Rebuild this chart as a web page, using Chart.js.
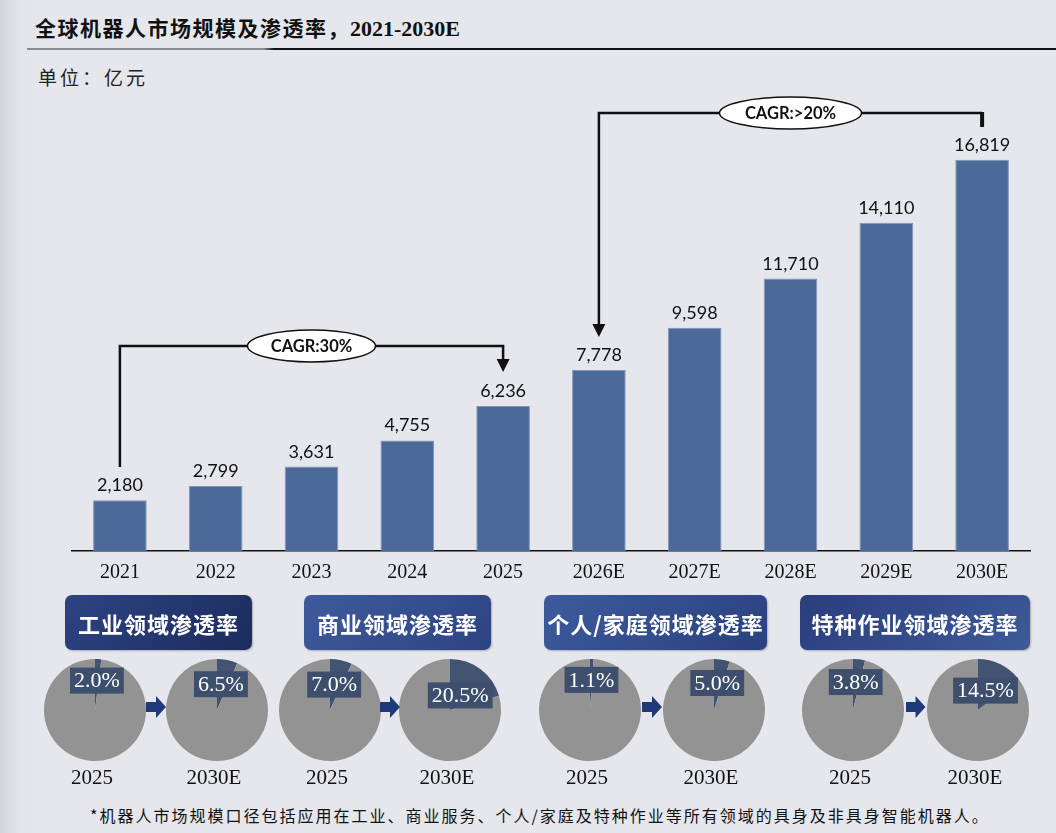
<!DOCTYPE html>
<html>
<head>
<meta charset="utf-8">
<script src="https://cdn.jsdelivr.net/npm/chart.js@4.4.1/dist/chart.umd.min.js"></script>
<style>
  html, body { margin: 0; padding: 0; }
  body {
    width: 1056px; height: 833px; overflow: hidden; position: relative;
    background: linear-gradient(to right, #d3d4da 0px, #e3e4ea 18px, #e6e7ec 40px);
  }
  .abs { position: absolute; }
  #title { left: 35px; top: 12px; font: 700 21px "Noto Sans CJK SC"; letter-spacing: 1.5px; color: #111; white-space: nowrap; }
  #title span { font: 700 22px "Liberation Serif"; letter-spacing: 0; }
  #rule { left: 27px; top: 48px; width: 1029px; height: 2px; background: linear-gradient(to right, #8c8c8c 0, #8c8c8c 23%, #111 24%, #111 100%); }
  #unit { left: 38px; top: 63px; font: 400 19px "Noto Sans CJK SC"; letter-spacing: 3px; color: #222; }
  .head { height: 55px; border-radius: 7px; color: #fff; font: 700 22px "Noto Sans CJK SC"; letter-spacing: 1px;
          display: flex; align-items: center; justify-content: center; box-shadow: 1px 1px 2px rgba(0,0,0,0.25); white-space: nowrap; }
  .arrow { width: 20px; height: 22px; background: #1f3a7a;
           clip-path: polygon(0 27%, 50% 27%, 50% 0, 100% 50%, 50% 100%, 50% 73%, 0 73%); }
  .yr { width: 90px; text-align: center; font: 400 21px "Liberation Serif"; color: #111; }
  #note { left: 90px; top: 803px; font: 400 16px "Noto Sans CJK SC"; letter-spacing: 2px; color: #111; white-space: nowrap; }
</style>
</head>
<body>
<div id="title" class="abs">全球机器人市场规模及渗透率，<span>2021-2030E</span></div>
<div id="rule" class="abs"></div>
<div id="unit" class="abs">单位：亿元</div>
<canvas id="barChart" class="abs" style="left:0;top:0" width="1056" height="600"></canvas>
<div id="lower"></div>
<div id="note" class="abs">*机器人市场规模口径包括应用在工业、商业服务、个人/家庭及特种作业等所有领域的具身及非具身智能机器人。</div>

<script>
// 市场规模（亿元）
const years = ['2021', '2022', '2023', '2024', '2025', '2026E', '2027E', '2028E', '2029E', '2030E'];
const marketSize = [2180, 2799, 3631, 4755, 6236, 7778, 9598, 11710, 14110, 16819];
const cagrLabels = ['CAGR:30%', 'CAGR:>20%'];

// 各领域渗透率（%）
const sectors = ['工业领域渗透率', '商业领域渗透率', '个人/家庭领域渗透率', '特种作业领域渗透率'];
const rate2025 = [2.0, 7.0, 1.1, 3.8];
const rate2030 = [6.5, 20.5, 5.0, 14.5];
const pieYears = ['2025', '2030E'];

// layout of the lower part (page pixels)
const headBoxes = [
  { left: 65, width: 187, bg: 'linear-gradient(135deg, #2d4484, #1c2b5c)' },
  { left: 304, width: 187, bg: 'linear-gradient(135deg, #3f5b9b, #2c4382)' },
  { left: 544, width: 223, bg: 'linear-gradient(135deg, #3d5b9b, #2a4080)' },
  { left: 800, width: 230, bg: 'linear-gradient(135deg, #2a3d7d, #3e5a99)' }
];
const pieCenters = [[95, 217], [330, 450], [590, 714], [853, 978]];
const pieY = 710;
const pieR = 51;

// ---------- bar chart ----------
const barLabels = {
  id: 'barLabels',
  afterDatasetsDraw(chart) {
    const ctx = chart.ctx;
    const meta = chart.getDatasetMeta(0);
    ctx.save();
    ctx.font = '18px Lato';
    ctx.fillStyle = '#111';
    ctx.textAlign = 'center';
    ctx.textBaseline = 'alphabetic';
    meta.data.forEach((bar, i) => {
      ctx.fillText(marketSize[i].toLocaleString('en-US'), bar.x, bar.y - 9);
    });
    ctx.restore();
  }
};

function cagrTag(ctx, text, cx, cy, rx, ry) {
  ctx.beginPath();
  ctx.ellipse(cx, cy, rx, ry, 0, 0, Math.PI * 2);
  ctx.fillStyle = '#fff';
  ctx.fill();
  ctx.lineWidth = 1.5;
  ctx.strokeStyle = '#111';
  ctx.stroke();
  ctx.fillStyle = '#111';
  ctx.font = 'bold 16.5px Lato';
  ctx.textAlign = 'center';
  ctx.textBaseline = 'middle';
  ctx.fillText(text, cx, cy + 1);
}

function arrowHead(ctx, x, tipY) {
  ctx.beginPath();
  ctx.moveTo(x - 6.5, tipY - 13);
  ctx.lineTo(x + 6.5, tipY - 13);
  ctx.lineTo(x, tipY);
  ctx.closePath();
  ctx.fillStyle = '#111';
  ctx.fill();
}

const cagrLines = {
  id: 'cagrLines',
  afterDraw(chart) {
    const ctx = chart.ctx;
    const bars = chart.getDatasetMeta(0).data;
    ctx.save();
    ctx.strokeStyle = '#111';
    ctx.lineWidth = 2.5;

    // 2021 -> 2025
    let x1 = bars[0].x, x2 = bars[4].x, yTop = 346;
    ctx.beginPath();
    ctx.moveTo(x1, 467);
    ctx.lineTo(x1, yTop);
    ctx.lineTo(x2, yTop);
    ctx.lineTo(x2, 360);
    ctx.stroke();
    arrowHead(ctx, x2, 372);
    cagrTag(ctx, cagrLabels[0], (x1 + x2) / 2, yTop, 64, 16);

    // 2030E -> 2026E
    x1 = bars[5].x; x2 = bars[9].x; yTop = 113;
    ctx.strokeStyle = '#111';
    ctx.lineWidth = 2.5;
    ctx.beginPath();
    ctx.moveTo(x1, 326);
    ctx.lineTo(x1, yTop);
    ctx.lineTo(x2, yTop);
    ctx.stroke();
    ctx.lineWidth = 4;
    ctx.beginPath();
    ctx.moveTo(x2, yTop - 1);
    ctx.lineTo(x2, 127);
    ctx.stroke();
    arrowHead(ctx, x1, 337);
    cagrTag(ctx, cagrLabels[1], (x1 + x2) / 2, yTop, 71, 16);
    ctx.restore();
  }
};

new Chart(document.getElementById('barChart'), {
  type: 'bar',
  data: {
    labels: years,
    datasets: [{
      data: marketSize,
      backgroundColor: '#4b6a99',
      borderColor: '#8195b8',
      borderWidth: 1,
      barPercentage: 0.56,
      categoryPercentage: 1
    }]
  },
  options: {
    responsive: false,
    animation: false,
    layout: { padding: { left: 72, right: 26, top: 109, bottom: 9 } },
    plugins: { legend: { display: false }, tooltip: { enabled: false } },
    scales: {
      x: {
        grid: { display: false },
        border: { display: true, color: '#111', width: 1.5 },
        ticks: { color: '#111', font: { family: 'Liberation Serif', size: 20 }, padding: 2, maxRotation: 0 },
        afterFit(scale) { scale.height = 40; }
      },
      y: { display: false, min: 0, max: 19000 }
    }
  },
  plugins: [barLabels, cagrLines]
});

// ---------- penetration pies ----------
const pieLabel = {
  id: 'pieLabel',
  afterDatasetsDraw(chart) {
    const ctx = chart.ctx;
    const arc = chart.getDatasetMeta(0).data[0];
    const pct = chart.data.datasets[0].data[0];
    const txt = pct.toFixed(1) + '%';
    const cx = arc.x + 1 + 0.45 * pct;
    const cy = arc.y - 31 + 0.8 * pct;
    ctx.save();
    ctx.font = '22px "Liberation Serif"';
    const w = ctx.measureText(txt).width + 8;
    ctx.fillStyle = '#3e4f6e';
    ctx.fillRect(cx - w / 2, cy - 13, w, 26);
    ctx.fillStyle = '#fff';
    ctx.textAlign = 'center';
    ctx.textBaseline = 'middle';
    ctx.fillText(txt, cx, cy + 1);
    ctx.restore();
  }
};

const lower = document.getElementById('lower');
const size = 120;
const pad = size / 2 - pieR;

sectors.forEach((name, s) => {
  const hb = headBoxes[s];
  const head = document.createElement('div');
  head.className = 'abs head';
  head.style.left = hb.left + 'px';
  head.style.top = '595px';
  head.style.width = hb.width + 'px';
  head.style.background = hb.bg;
  head.textContent = name;
  lower.appendChild(head);

  const rates = [rate2025[s], rate2030[s]];
  rates.forEach((r, k) => {
    const cx = pieCenters[s][k];
    const cv = document.createElement('canvas');
    cv.className = 'abs';
    cv.width = size; cv.height = size;
    cv.style.left = (cx - size / 2) + 'px';
    cv.style.top = (pieY - size / 2) + 'px';
    lower.appendChild(cv);
    new Chart(cv, {
      type: 'pie',
      data: {
        labels: [name, ''],
        datasets: [{ data: [r, 100 - r], backgroundColor: ['#435372', '#939393'], borderWidth: 0 }]
      },
      options: {
        responsive: false,
        animation: false,
        layout: { padding: pad },
        plugins: { legend: { display: false }, tooltip: { enabled: false } }
      },
      plugins: [pieLabel]
    });

    const yr = document.createElement('div');
    yr.className = 'abs yr';
    yr.style.left = (cx - 45 - 3) + 'px';
    yr.style.top = '765px';
    yr.textContent = pieYears[k];
    lower.appendChild(yr);
  });

  const ar = document.createElement('div');
  ar.className = 'abs arrow';
  ar.style.left = ((pieCenters[s][0] + pieCenters[s][1]) / 2 - 10) + 'px';
  ar.style.top = (pieY - 14) + 'px';
  lower.appendChild(ar);
});
</script>
</body>
</html>
